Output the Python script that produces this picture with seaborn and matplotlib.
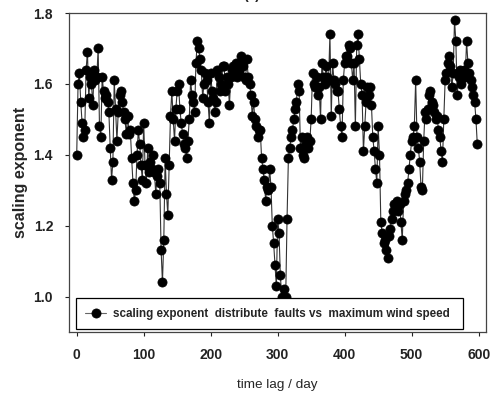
import numpy as np
import pandas as pd
import matplotlib
matplotlib.use("Agg")
import matplotlib.pyplot as plt
from matplotlib import font_manager
import seaborn as sns

# time lag in days (every 2 days)
days = np.arange(0, 600, 2)

# scaling exponent
scaling = [
    1.40, 1.60, 1.63, 1.55, 1.49, 1.45, 1.47, 1.64, 1.69, 1.56,
    1.62, 1.60, 1.54, 1.64, 1.61, 1.62, 1.70, 1.48, 1.45, 1.62,
    1.58, 1.56, 1.57, 1.55, 1.52, 1.42, 1.33, 1.38, 1.61, 1.53,
    1.44, 1.52, 1.57, 1.58, 1.55, 1.52, 1.50, 1.46, 1.51, 1.46,
    1.47, 1.39, 1.32, 1.27, 1.30, 1.40, 1.47, 1.43, 1.37, 1.33,
    1.49, 1.37, 1.32, 1.42, 1.35, 1.38, 1.36, 1.40, 1.35, 1.29,
    1.34, 1.36, 1.32, 1.13, 1.04, 1.16, 1.39, 1.29, 1.23, 1.37,
    1.51, 1.58, 1.50, 1.44, 1.53, 1.58, 1.60, 1.53, 1.49, 1.46,
    1.43, 1.42, 1.39, 1.44, 1.50, 1.61, 1.57, 1.55, 1.52, 1.66,
    1.72, 1.70, 1.67, 1.64, 1.56, 1.60, 1.63, 1.61, 1.55, 1.49,
    1.63, 1.58, 1.56, 1.52, 1.55, 1.64, 1.62, 1.58, 1.60, 1.65,
    1.65, 1.58, 1.62, 1.60, 1.54, 1.62, 1.64, 1.65, 1.63, 1.66,
    1.62, 1.64, 1.66, 1.68, 1.65, 1.62, 1.61, 1.67, 1.62, 1.60,
    1.57, 1.51, 1.55, 1.50, 1.48, 1.45, 1.47, 1.47, 1.39, 1.36,
    1.33, 1.27, 1.31, 1.30, 1.36, 1.31, 1.20, 1.15, 1.09, 1.03,
    1.22, 1.18, 1.06, 1.00, 0.99, 1.02, 1.00, 1.22, 1.39, 1.42,
    1.45, 1.47, 1.50, 1.53, 1.55, 1.60, 1.58, 1.42, 1.45, 1.40,
    1.39, 1.43, 1.45, 1.42, 1.44, 1.50, 1.63, 1.60, 1.59, 1.62,
    1.57, 1.59, 1.50, 1.66, 1.62, 1.60, 1.65, 1.62, 1.61, 1.74,
    1.51, 1.66, 1.61, 1.60, 1.58, 1.58, 1.53, 1.48, 1.45, 1.61,
    1.66, 1.68, 1.68, 1.71, 1.70, 1.66, 1.61, 1.66, 1.48, 1.71,
    1.74, 1.67, 1.60, 1.57, 1.41, 1.48, 1.55, 1.59, 1.57, 1.59,
    1.54, 1.45, 1.41, 1.36, 1.32, 1.48, 1.40, 1.21, 1.18, 1.15,
    1.16, 1.13, 1.11, 1.17, 1.19, 1.22, 1.24, 1.26, 1.25, 1.27,
    1.24, 1.26, 1.21, 1.16, 1.27, 1.29, 1.30, 1.32, 1.36, 1.40,
    1.44, 1.45, 1.48, 1.61, 1.45, 1.42, 1.38, 1.31, 1.30, 1.44,
    1.52, 1.50, 1.53, 1.57, 1.58, 1.55, 1.54, 1.52, 1.50, 1.51,
    1.47, 1.45, 1.41, 1.38, 1.50, 1.61, 1.63, 1.66, 1.68, 1.65,
    1.59, 1.63, 1.78, 1.72, 1.57, 1.62, 1.64, 1.60, 1.63, 1.64,
    1.62, 1.72, 1.66, 1.63, 1.61, 1.59, 1.57, 1.55, 1.50, 1.43,
]

x_ticks = [0, 100, 200, 300, 400, 500, 600]
y_ticks = [1.0, 1.2, 1.4, 1.6, 1.8]
legend_label = "scaling exponent  distribute  faults vs  maximum wind speed"

df = pd.DataFrame({"day": days, "value": scaling})

sns.set_style("ticks")
plt.rcParams["font.family"] = ["Liberation Sans", "DejaVu Sans"]

names = {f.name for f in font_manager.fontManager.ttflist}
if "Liberation Sans Narrow" in names:
    leg_prop = {"size": 10.2, "weight": "bold", "family": ["Liberation Sans Narrow"]}
else:
    leg_prop = {"size": 8.4, "weight": "bold", "family": ["Liberation Sans"]}

fig = plt.figure(figsize=(4.94, 3.94), dpi=100)
ax = fig.add_axes([0.1397, 0.1574, 0.8441, 0.8096])

sns.lineplot(data=df, x="day", y="value", ax=ax, color="#333333", linewidth=0.8,
             marker="o", markersize=6.6, markerfacecolor="black",
             markeredgecolor="black", markeredgewidth=0.5, label=legend_label)

ax.set_xlim(-11.5, 611)
ax.set_ylim(0.90, 1.80)
ax.set_xticks(x_ticks)
ax.set_yticks(y_ticks)
ax.set_xticklabels([str(t) for t in x_ticks], fontsize=10, fontweight="bold")
ax.set_yticklabels([f"{t:.1f}" for t in y_ticks], fontsize=10, fontweight="bold")
ax.tick_params(direction="out", length=3, width=0.8, colors="#222222", pad=8.5)

for s in ax.spines.values():
    s.set_visible(True)
    s.set_linewidth(0.9)
    s.set_color("#444444")

ax.set_xlabel("time lag / day", fontsize=9.7, labelpad=12)
ax.set_ylabel("scaling exponent", fontsize=11.5, fontweight="bold", labelpad=4)

leg = ax.legend(loc="lower left", bbox_to_anchor=(0.0168, 0.0094, 0.928, 0.1034),
                mode="expand", borderaxespad=0, frameon=True, fancybox=False,
                framealpha=1, edgecolor="black", borderpad=0.8, handlelength=1.8,
                handletextpad=0.55, prop=leg_prop)
leg.get_frame().set_linewidth(0.9)
for h in leg.legend_handles:
    h.set_color("#666666")
    h.set_markerfacecolor("black")
    h.set_markeredgecolor("black")

fig.text(0.51, 1.012, "(a)", ha="center", va="center", fontsize=10, fontweight="bold")

fig.savefig("out.png", dpi=100)
